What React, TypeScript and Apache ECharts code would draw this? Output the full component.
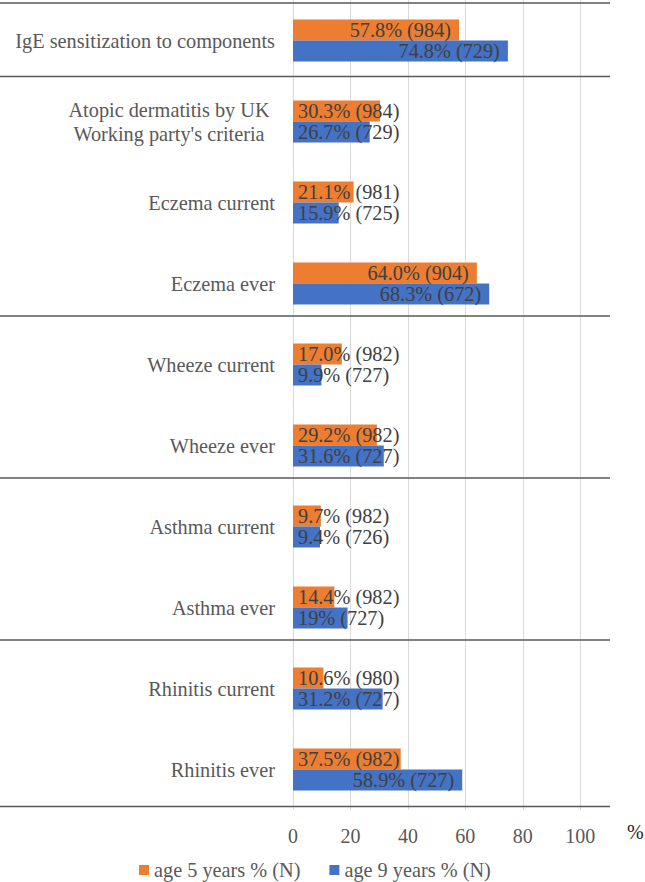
import { useEffect, useRef } from "react";
import * as echarts from "echarts";

const categories = [
  "IgE sensitization to components",
  "Atopic dermatitis by UK\nWorking party's criteria",
  "Eczema current",
  "Eczema ever",
  "Wheeze current",
  "Wheeze ever",
  "Asthma current",
  "Asthma ever",
  "Rhinitis current",
  "Rhinitis ever",
];
const age5Name = "age 5 years % (N)";
const age9Name = "age 9 years % (N)";
const age5Pct = ["57.8", "30.3", "21.1", "64.0", "17.0", "29.2", "9.7", "14.4", "10.6", "37.5"];
const age5N = [984, 984, 981, 904, 982, 982, 982, 982, 980, 982];
const age9Pct = ["74.8", "26.7", "15.9", "68.3", "9.9", "31.6", "9.4", "19", "31.2", "58.9"];
const age9N = [729, 729, 725, 672, 727, 727, 726, 727, 727, 727];
// categories that open a group (a separator line above them), plus the bottom edge
const groupStarts = [0, 1, 4, 6, 8];
const lastCategory = 9;

const FONT = '"Liberation Serif", "Times New Roman", serif';
const FS = 20.3;

function makeData(pct: string[], n: number[]) {
  return pct.map((p, i) => {
    const v = Number(p);
    const inside = v > 40;
    return {
      value: v,
      label: {
        position: inside ? "insideRight" : "insideLeft",
        distance: inside ? 8 : 5,
        formatter: `${p}% (${n[i]})`,
      },
    };
  });
}

export default function App() {
  const ref = useRef<HTMLDivElement>(null);
  useEffect(() => {
    document.body.style.margin = "0";
    const chart = echarts.init(ref.current!, null, { renderer: "svg" });
    const labelStyle = {
      show: true,
      fontFamily: FONT,
      fontSize: FS,
      color: "#404040",
    };
    const sepData = [
      ...groupStarts.map((i) => [0, i, -1]),
      [0, lastCategory, 1],
    ];
    chart.setOption({
      animation: false,
      grid: { left: 293, right: 36, top: 0, bottom: 72 },
      legend: {
        data: [age5Name, age9Name],
        left: 134,
        top: 855,
        icon: "rect",
        itemWidth: 10,
        itemHeight: 10,
        itemGap: 29,
        textStyle: { fontFamily: FONT, fontSize: FS, color: "#595959" },
      },
      xAxis: {
        type: "value",
        min: 0,
        max: 110,
        interval: 20,
        axisLine: { show: false },
        axisTick: { show: false },
        axisLabel: {
          showMaxLabel: false,
          margin: 16,
          fontFamily: FONT,
          fontSize: 20,
          color: "#595959",
        },
        splitLine: {
          show: true,
          showMaxLine: false,
          lineStyle: { color: "#d9d9d9", width: 1 },
        },
      },
      yAxis: {
        type: "category",
        data: categories,
        inverse: true,
        axisLine: { show: false },
        axisTick: { show: false },
        splitLine: { show: false },
        axisLabel: {
          interval: 0,
          margin: 18,
          fontFamily: FONT,
          fontSize: FS,
          lineHeight: 24,
          color: "#595959",
          formatter: (v: string) =>
            v.includes("\n")
              ? v
                  .split("\n")
                  .map((l) => `{c|${l}}`)
                  .join("\n")
              : v,
          rich: {
            c: {
              width: 212,
              align: "center",
              fontFamily: FONT,
              fontSize: FS,
              lineHeight: 24,
              color: "#595959",
            },
          },
        },
      },
      graphic: [
        {
          type: "text",
          left: 627,
          top: 822,
          style: { text: "%", font: `20px ${FONT}`, fill: "#262626" },
        },
      ],
      series: [
        {
          name: age5Name,
          type: "bar",
          data: makeData(age5Pct, age5N),
          barWidth: 21,
          barGap: "0%",
          itemStyle: { color: "#ED7D31" },
          label: labelStyle,
          z: 3,
        },
        {
          name: age9Name,
          type: "bar",
          data: makeData(age9Pct, age9N),
          barWidth: 21,
          barGap: "0%",
          itemStyle: { color: "#4472C4" },
          label: labelStyle,
          z: 3,
        },
        {
          name: "separators",
          type: "custom",
          coordinateSystem: "cartesian2d",
          silent: true,
          z: 5,
          encode: { x: 0, y: 1 },
          data: sepData,
          renderItem: (params: any, api: any) => {
            const idx = api.value(1);
            const side = api.value(2);
            const c = api.coord([0, idx]);
            const band = api.size([0, 1])[1];
            let y = c[1] + (side * band) / 2;
            if (side > 0) y -= 3.5;
            else if (idx === 0) y += 3;
            else if (idx === 1) y -= 4.5;
            else y -= 8;
            const cs = params.coordSys;
            return {
              type: "line",
              shape: { x1: 0, y1: y, x2: cs.x + cs.width + 1, y2: y },
              style: { stroke: "#595959", lineWidth: 1.5 },
            };
          },
        },
      ],
    });
    return () => chart.dispose();
  }, []);
  return <div ref={ref} style={{ width: 645, height: 882 }} />;
}
